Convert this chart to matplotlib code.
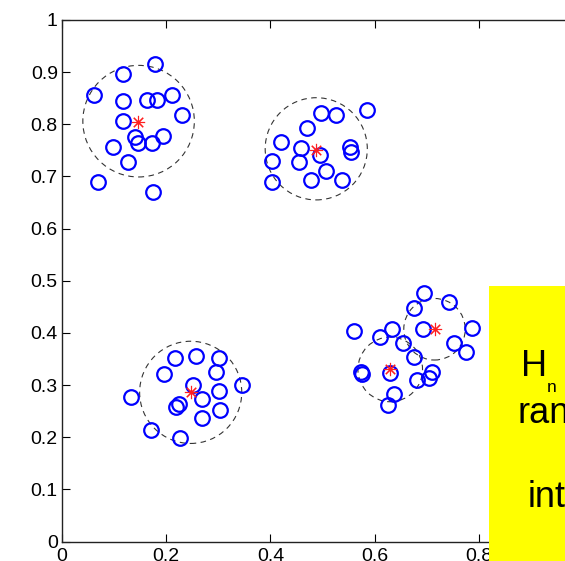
import matplotlib
matplotlib.use("Agg")
import matplotlib.pyplot as plt
from matplotlib.patches import Circle, Rectangle
import numpy as np

plt.rcParams['font.family'] = ['Liberation Sans', 'DejaVu Sans']

# cluster points
c1_x = [0.062, 0.118, 0.178, 0.118, 0.163, 0.182, 0.211, 0.231, 0.118, 0.140, 0.146, 0.172, 0.193, 0.097, 0.126, 0.070, 0.175]
c1_y = [0.856, 0.896, 0.915, 0.844, 0.847, 0.847, 0.856, 0.818, 0.806, 0.776, 0.765, 0.765, 0.777, 0.756, 0.727, 0.689, 0.671]

c2_x = [0.497, 0.526, 0.585, 0.471, 0.421, 0.459, 0.495, 0.552, 0.555, 0.404, 0.454, 0.506, 0.404, 0.477, 0.538]
c2_y = [0.821, 0.818, 0.827, 0.792, 0.766, 0.755, 0.742, 0.757, 0.747, 0.730, 0.727, 0.710, 0.689, 0.693, 0.693]

c3_x = [0.217, 0.258, 0.301, 0.195, 0.295, 0.251, 0.346, 0.132, 0.301, 0.269, 0.225, 0.219, 0.303, 0.269, 0.170, 0.226]
c3_y = [0.351, 0.356, 0.351, 0.321, 0.325, 0.301, 0.301, 0.278, 0.289, 0.273, 0.264, 0.257, 0.252, 0.237, 0.213, 0.199]

c4_x = [0.695, 0.743, 0.676, 0.561, 0.634, 0.693, 0.787, 0.611, 0.655, 0.752, 0.775, 0.676, 0.574, 0.575, 0.629, 0.711, 0.705, 0.682, 0.637, 0.626]
c4_y = [0.476, 0.459, 0.447, 0.403, 0.407, 0.407, 0.409, 0.392, 0.380, 0.380, 0.363, 0.353, 0.325, 0.321, 0.324, 0.325, 0.313, 0.310, 0.283, 0.262]

# cluster centres (red asterisks)
star_x = [0.145, 0.487, 0.248, 0.715, 0.630]
star_y = [0.804, 0.750, 0.287, 0.407, 0.330]

# dashed circles
circ_x = [0.147, 0.488, 0.247, 0.715, 0.630]
circ_y = [0.806, 0.753, 0.286, 0.407, 0.330]
circ_r = [0.107, 0.098, 0.098, 0.059, 0.062]

xticks = [0, 0.2, 0.4, 0.6, 0.8, 1.0]
xticklabels = ['0', '0.2', '0.4', '0.6', '0.8', '1']
yticks = [0, 0.1, 0.2, 0.3, 0.4, 0.5, 0.6, 0.7, 0.8, 0.9, 1.0]
yticklabels = ['0', '0.1', '0.2', '0.3', '0.4', '0.5', '0.6', '0.7', '0.8', '0.9', '1']

W, H = 565, 561
fig = plt.figure(figsize=(W / 100, H / 100), dpi=100)
ax = fig.add_axes([62 / W, 19.5 / H, 521 / W, 521.5 / H])

for cx, cy, r in zip(circ_x, circ_y, circ_r):
    ax.add_patch(Circle((cx, cy), r, fill=False, ec='#333333', lw=0.8,
                        ls=(0, (5, 4)), zorder=1))

for xs, ys in [(c1_x, c1_y), (c2_x, c2_y), (c3_x, c3_y), (c4_x, c4_y)]:
    ax.plot(xs, ys, 'o', ms=10.5, mfc='none', mec='#0000ff', mew=1.6, zorder=3)

ax.plot(star_x, star_y, ls='none', marker=(8, 2, 0), ms=9.5, color='#ff2020',
        mew=0.8, zorder=4)

ax.set_xlim(0, 1)
ax.set_ylim(0, 1)
ax.set_xticks(xticks)
ax.set_xticklabels(xticklabels)
ax.set_yticks(yticks)
ax.set_yticklabels(yticklabels)
ax.tick_params(direction='in', length=6, width=0.8, top=True, right=True,
               labelsize=14, colors='black')
ax.tick_params(axis='x', pad=5)
ax.tick_params(axis='y', pad=3)
for s in ax.spines.values():
    s.set_linewidth(1.0)
    s.set_color('#222222')

# yellow annotation box (partially outside the figure)
fig.patches.append(Rectangle((489 / W, 0), 200 / W, (H - 286) / H,
                             transform=fig.transFigure, fc='#ffff00', ec='none',
                             zorder=10))

def ftext(px, py, s, size):
    fig.text(px / W, (H - py) / H, s, fontsize=size, ha='left', va='baseline',
             color='black', zorder=11)

ftext(521, 376, 'H', 26)
ftext(547, 391.5, 'n', 12.5)
ftext(518, 423, 'random', 26)
ftext(527.5, 507, 'integer', 26)

fig.savefig('out.png', dpi=100)
